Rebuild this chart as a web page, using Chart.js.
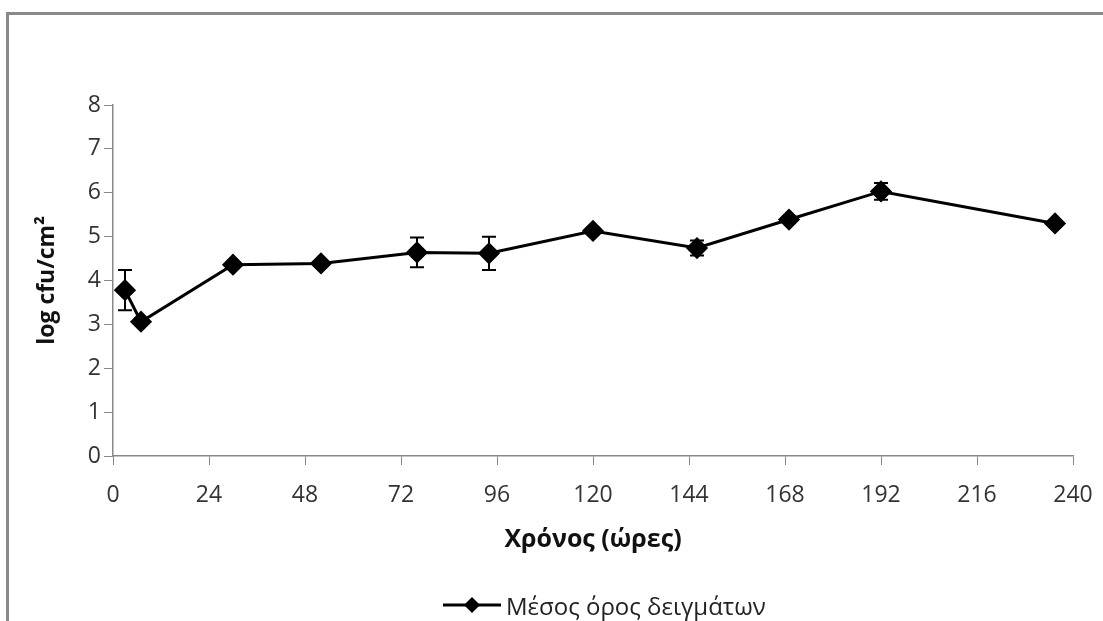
<!DOCTYPE html>
<html>
<head>
<meta charset="utf-8">
<script src="https://cdn.jsdelivr.net/npm/chart.js@4"></script>
<style>
  html, body { margin: 0; padding: 0; background: #fff; overflow: hidden; }
  #frame {
    position: absolute; left: 6px; top: 12px; width: 1200px; height: 700px;
    border-left: 3px solid #8a8a8a; border-top: 3px solid #8a8a8a;
  }
  #wrap { position: absolute; left: 0; top: 0; width: 1103px; height: 621px; }
  #legend {
    position: absolute; left: 443px; top: 588px; height: 34px;
    display: flex; align-items: center;
    font-family: 'Open Sans', sans-serif; font-size: 24px; color: #222; white-space: nowrap;
  }
  #legend canvas { margin-right: 5px; }
</style>
</head>
<body>
<div id="frame"></div>
<div id="wrap"><canvas id="myChart" width="1103" height="621"></canvas></div>
<div id="legend"></div>
<script>
// time in hours, mean log cfu/cm2 and its error
var hours = [3, 7, 30, 52, 76, 94, 120, 146, 169, 192, 235.5];
var means = [3.78, 3.06, 4.36, 4.39, 4.64, 4.62, 5.13, 4.74, 5.39, 6.03, 5.30];
var errs = [0.46, 0.05, 0.05, 0.05, 0.34, 0.38, 0.07, 0.17, 0.07, 0.19, 0.07];
var xTicks = [0, 24, 48, 72, 96, 120, 144, 168, 192, 216, 240];
var seriesName = 'Μέσος όρος δειγμάτων';

var points = hours.map(function (h, i) { return { x: h, y: means[i] }; });

var errorBars = {
  id: 'errorBars',
  afterDatasetsDraw: function (chart) {
    var ctx = chart.ctx;
    var xs = chart.scales.x, ys = chart.scales.y;
    ctx.save();
    ctx.strokeStyle = '#000';
    ctx.lineWidth = 2;
    errs.forEach(function (e, i) {
      var px = xs.getPixelForValue(hours[i]);
      var top = ys.getPixelForValue(means[i] + e);
      var bot = ys.getPixelForValue(means[i] - e);
      ctx.beginPath();
      ctx.moveTo(px, top); ctx.lineTo(px, bot);
      ctx.moveTo(px - 7, top); ctx.lineTo(px + 7, top);
      ctx.moveTo(px - 7, bot); ctx.lineTo(px + 7, bot);
      ctx.stroke();
    });
    ctx.restore();
  }
};

var chart = new Chart('myChart', {
  type: 'scatter',
  data: {
    datasets: [{
      label: seriesName,
      data: points,
      showLine: true,
      borderColor: '#000',
      backgroundColor: '#000',
      borderWidth: 3,
      pointStyle: 'rectRot',
      pointRadius: 9,
      pointHoverRadius: 9
    }]
  },
  options: {
    responsive: false,
    animation: false,
    layout: { padding: { left: 0, right: 30, top: 105, bottom: 55 } },
    plugins: {
      tooltip: { enabled: false },
      legend: { display: false }
    },
    scales: {
      x: {
        type: 'linear',
        min: 0, max: 240,
        afterBuildTicks: function (s) { s.ticks = xTicks.map(function (v) { return { value: v }; }); },
        grid: { drawOnChartArea: false, color: '#888', tickLength: 9 },
        border: { color: '#888', width: 1.5 },
        ticks: { color: '#333', font: { family: 'Open Sans', size: 23 }, padding: 17, maxRotation: 0 },
        title: { display: true, text: 'Χρόνος (ώρες)', color: '#111', font: { family: 'Open Sans', size: 25, weight: 'bold' }, padding: { top: 4, bottom: 11 } },
        afterFit: function (s) { s.height = 110; s.paddingLeft = 0; s.paddingRight = 0; }
      },
      y: {
        min: 0, max: 8,
        ticks: { stepSize: 1, color: '#333', font: { family: 'Open Sans', size: 23 }, padding: 3 },
        grid: { drawOnChartArea: false, color: '#888', tickLength: 9 },
        border: { color: '#888', width: 1.5 },
        title: { display: true, text: 'log cfu/cm²', color: '#111', font: { family: 'Open Sans', size: 23, weight: 'bold' }, padding: { top: 34, bottom: 0 } },
        afterFit: function (s) { s.width = 113; s.paddingTop = 0; s.paddingBottom = 0; }
      }
    }
  },
  plugins: [errorBars]
});

// legend below the chart: line with a diamond, then the series name
var legendIcon = document.createElement('canvas');
legendIcon.width = 58;
legendIcon.height = 18;
var lc = legendIcon.getContext('2d');
lc.strokeStyle = '#000';
lc.lineWidth = 3;
lc.beginPath(); lc.moveTo(0, 9); lc.lineTo(58, 9); lc.stroke();
lc.fillStyle = '#000';
lc.beginPath(); lc.moveTo(29, 1); lc.lineTo(37, 9); lc.lineTo(29, 17); lc.lineTo(21, 9); lc.closePath(); lc.fill();
var legend = document.getElementById('legend');
legend.appendChild(legendIcon);
var span = document.createElement('span');
span.textContent = chart.data.datasets[0].label;
legend.appendChild(span);
</script>
</body>
</html>
